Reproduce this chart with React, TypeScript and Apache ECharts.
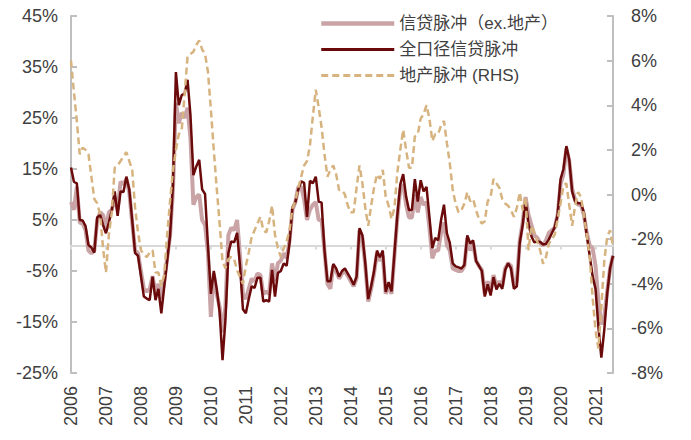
import React, { useEffect, useRef } from "react";
import * as echarts from "echarts";

const years = ["2006","2007","2008","2009","2010","2011","2012","2013","2014","2015","2016","2017","2018","2019","2020","2021"];
const monthCount = 187;

const seriesNames = ["信贷脉冲（ex.地产）", "全口径信贷脉冲", "地产脉冲 (RHS)"];

const creditExProperty = [
  8.5, 7.0, 11.5, 4.5, 4.3, 3.0, -1.0, -1.5, -1.0, 5.0, 6.5, 6.0,
  3.5, 6.5, 7.0, 9.5, 7.0, 12.5, 12.0, 13.0, 10.5, 4.5, -1.0, -1.5,
  -5.0, -8.5, -9.0, -8.5, -6.0, -9.5, -7.5, -10.5, -7.0, -2.5, 2.0, 11.0,
  28.0, 24.0, 26.0, 25.0, 27.0, 21.0, 8.0, 9.5, 10.0, 5.0, 4.0, -1.5,
  -14.0, -5.5, -9.5, -12.0, -17.0, -12.0, 2.0, 3.5, 3.0, 5.0, -2.0, -9.5,
  -10.5, -8.5, -6.5, -7.0, -5.5, -5.8, -9.5, -9.0, -9.5, -3.5, -7.0, -3.5,
  -3.0, -1.5, -2.5, 1.0, 7.0, 8.5, 11.5, 11.5, 9.0, 5.0, 7.0, 8.0,
  8.5, 5.0, 5.0, -1.0, -7.5, -8.5, -4.0, -5.0, -6.5, -5.5, -5.0, -6.0,
  -7.0, -8.0, -6.5, 3.0, 1.5, -4.0, -11.0, -8.5, -5.5, -1.5, -3.0, -2.0,
  -9.5, -7.8, -9.5, -2.0, 5.5, 11.0, 12.0, 8.0, 5.5, 5.5, 10.0, 6.5,
  9.5, 8.0, 8.5, 3.5, -2.5, -1.0, -1.0, 2.5, 4.5, 0.0, -1.0, -4.5,
  -4.8, -5.0, -5.0, -4.0, 1.5, -1.0, 0.5, -3.0, -4.0, -4.8, -9.5, -7.0,
  -9.0, -5.8, -8.0, -7.0, -8.0, -4.5, -3.5, -4.0, -8.0, -7.0, 1.0, 4.5,
  9.5, 6.0, 4.0, 2.0, 1.5, 0.5, 0.0, 1.0, 2.5, 3.0, 3.5, 6.0,
  12.0, 14.0, 19.0, 16.5, 11.0, 9.0, 8.0, 8.0, 6.0, 2.5, 0.0, -0.5,
  -4.0, -11.0, -15.5, -14.0, -9.0, -4.5, -2.0
];

const creditTotal = [
  15.3, 12.5, 12.2, 5.0, 4.9, 3.8, 0.1, -0.4, -1.4, 5.5, 6.0, 4.0,
  2.4, 4.5, 6.9, 10.6, 5.8, 10.6, 10.5, 13.5, 11.0, 5.0, -1.5, -2.0,
  -6.0, -10.0, -10.4, -10.7, -6.1, -10.7, -8.5, -13.3, -8.0, -3.0, 2.0, 12.0,
  34.0, 27.5, 29.5, 29.8, 32.5, 25.5, 13.8, 15.5, 16.8, 11.0, 10.1, 0.0,
  -9.5, -5.0, -8.5, -13.0, -22.5, -14.6, -1.5, 0.8, 0.6, 2.5, -4.0, -12.5,
  -13.3, -10.5, -8.0, -8.3, -6.3, -6.3, -11.0, -10.7, -11.0, -4.8, -10.0, -5.4,
  -5.0, -3.5, -4.0, 0.5, 7.5, 8.5, 11.0, 12.6, 12.3, 5.6, 12.7, 12.2,
  13.5, 8.6, 8.4, -1.0, -7.0, -7.0, -3.6, -4.5, -6.1, -5.0, -4.5, -5.5,
  -6.5, -7.7, -6.1, 3.4, 2.0, -3.5, -10.5, -8.0, -5.0, -1.0, -2.3, -1.0,
  -9.1, -7.2, -9.0, -1.5, 6.0, 12.0, 14.0, 9.6, 6.9, 7.0, 13.0, 8.6,
  12.8, 10.6, 11.5, 5.6, -0.5, 1.5, 1.0, 5.0, 8.0, 2.4, 0.5, -3.5,
  -4.1, -4.3, -4.5, -3.8, 2.0, 0.4, 1.0, -3.0, -4.0, -5.0, -10.0, -7.6,
  -9.8, -6.2, -8.6, -7.5, -8.5, -4.8, -3.5, -4.5, -8.5, -8.0, 0.5, 4.0,
  8.9, 4.2, 1.8, 0.6, 0.8, 0.7, 0.2, 0.3, 1.2, 2.4, 3.6, 6.0,
  13.0, 15.0, 19.5, 16.8, 10.5, 8.6, 8.3, 8.3, 6.5, 2.0, -2.0, -6.0,
  -8.5, -16.0, -22.0, -16.6, -9.5, -4.5, -2.0
];

const propertyImpulse = [
  6.0, 4.6, 3.3, 1.8, 2.1, 2.0, 1.8, 0.8, -0.2, -0.4, -0.9, -2.4,
  -3.5, -1.8, -0.8, 1.2, 1.3, 1.5, 1.7, 1.9, 1.5, 1.1, -0.6, -1.7,
  -2.5, -2.7, -2.8, -2.6, -2.5, -3.5, -3.5, -4.1, -3.6, -1.8, -0.3, 1.1,
  2.0, 2.7, 2.9, 4.5, 6.2, 6.3, 6.4, 6.7, 6.9, 6.5, 6.3, 5.5,
  3.8, 2.0, 0.3, -1.3, -3.0, -3.3, -2.9, -2.8, -2.9, -3.4, -3.7, -4.0,
  -3.2, -2.6, -1.9, -1.6, -1.3, -1.0, -1.6, -1.7, -1.2, -0.5, -1.8, -2.4,
  -2.8, -2.4, -2.1, -1.6, -0.6, -0.3, 0.3, 0.8, 1.3, 1.5, 2.2, 3.5,
  4.7, 3.9, 3.0, 1.8, 0.8, 1.1, 1.3, 0.9, 0.2, 0.2, 0.0, -0.5,
  -0.8, -0.8, 0.3, 1.3, 0.5, -0.6, -1.4, -0.5, 0.3, 0.9, 0.7, 1.1,
  -0.1, -0.5, -1.1, -0.6, 1.0, 2.0, 2.9, 2.0, 1.2, 1.2, 2.6, 2.7,
  3.4, 3.6, 4.0, 3.4, 2.4, 2.7, 2.7, 3.1, 3.3, 2.3, 1.4, 0.2,
  -0.4, -0.8, -0.7, -0.4, 0.1, -0.3, -0.2, -0.7, -1.1, -1.3, -1.2, -0.3,
  -0.1, 0.7, 0.5, 0.3, -0.2, -0.4, -0.5, -0.7, -1.0, -0.6, 0.1, -0.7,
  -0.1, -2.5, -1.4, -1.7, -2.1, -2.5, -3.1, -2.8, -2.2, -2.0, -1.8, -1.1,
  -0.4, 0.4, 0.5, -0.5, -1.4, -0.5, 0.1, -0.1, -0.9, -1.8, -2.8, -4.6,
  -6.1, -6.9, -5.0, -3.0, -1.9, -1.6, -2.3
];

const months: string[] = [];
years.forEach((y) => {
  for (let m = 1; m <= 12; m++) months.push(y + "-" + (m < 10 ? "0" + m : "" + m));
});
const categories = months.slice(0, monthCount);

const FONT = "Arial, 'Liberation Sans', 'Noto Sans CJK SC', sans-serif";
const TXT = "#404040";
const AXIS = "#bfbfbf";
const PINK = "#c9a3a6";
const DARK = "#6b0a0a";
const TAN = "#d6b37f";

export default function App() {
  const ref = useRef<HTMLDivElement>(null);
  useEffect(() => {
    if (!ref.current) return;
    const chart = echarts.init(ref.current, undefined, { renderer: "svg" });
    const yearTick = (i: number) => i % 12 === 0;
    chart.setOption({
      animation: false,
      textStyle: { fontFamily: FONT },
      grid: { left: 71, right: 78, top: 16, bottom: 67, containLabel: false },
      legend: {
        orient: "vertical",
        left: 314,
        top: 10,
        itemWidth: 73,
        itemHeight: 16,
        itemGap: 9,
        itemStyle: { opacity: 0 },
        textStyle: { fontSize: 17, color: TXT, fontFamily: FONT },
        data: [
          { name: seriesNames[0], lineStyle: { width: 4.5, color: PINK } },
          { name: seriesNames[1], lineStyle: { width: 3, color: DARK } },
          { name: seriesNames[2], lineStyle: { width: 3, color: TAN, type: [7, 4] } },
        ],
      },
      xAxis: [
        {
          type: "category",
          data: categories,
          boundaryGap: false,
          position: "bottom",
          axisLine: { show: false, onZero: false },
          axisTick: { show: false },
          splitLine: { show: false },
          axisLabel: {
            interval: yearTick,
            formatter: (v: string) => v.slice(0, 4),
            rotate: 90,
            margin: 13,
            fontSize: 18,
            color: TXT,
            fontFamily: FONT,
          },
        },
        {
          type: "category",
          data: categories,
          boundaryGap: false,
          position: "bottom",
          axisLine: { show: true, onZero: true, onZeroAxisIndex: 0, lineStyle: { color: "#d9d9d9", width: 2 } },
          axisTick: { show: true, interval: yearTick, length: 4, lineStyle: { color: "#d9d9d9", width: 2 } },
          axisLabel: { show: false },
          splitLine: { show: false },
        },
      ],
      yAxis: [
        {
          type: "value",
          min: -25,
          max: 45,
          interval: 10,
          position: "left",
          axisLine: { show: true, lineStyle: { color: AXIS, width: 2 } },
          axisTick: { show: true, inside: true, length: 6, lineStyle: { color: AXIS, width: 2 } },
          splitLine: { show: false },
          axisLabel: { formatter: "{value}%", fontSize: 18, color: TXT, margin: 13, fontFamily: FONT },
        },
        {
          type: "value",
          min: -8,
          max: 8,
          interval: 2,
          position: "right",
          axisLine: { show: true, lineStyle: { color: AXIS, width: 2 } },
          axisTick: { show: true, inside: true, length: 6, lineStyle: { color: AXIS, width: 2 } },
          splitLine: { show: false },
          axisLabel: { formatter: "{value}%", fontSize: 18, color: TXT, margin: 18, fontFamily: FONT },
        },
      ],
      series: [
        {
          name: seriesNames[0],
          type: "line",
          xAxisIndex: 0,
          yAxisIndex: 0,
          data: creditExProperty,
          symbol: "none",
          lineStyle: { color: PINK, width: 4 },
          itemStyle: { color: PINK },
        },
        {
          name: seriesNames[1],
          type: "line",
          xAxisIndex: 0,
          yAxisIndex: 0,
          data: creditTotal,
          symbol: "none",
          lineStyle: { color: DARK, width: 2.5 },
          itemStyle: { color: DARK },
        },
        {
          name: seriesNames[2],
          type: "line",
          xAxisIndex: 0,
          yAxisIndex: 1,
          data: propertyImpulse,
          symbol: "none",
          lineStyle: { color: TAN, width: 2.5, type: [7, 4] },
          itemStyle: { color: TAN },
        },
      ],
    });
    return () => chart.dispose();
  }, []);
  return <div ref={ref} style={{ position: "absolute", left: 0, top: 0, width: 691, height: 440 }} />;
}
